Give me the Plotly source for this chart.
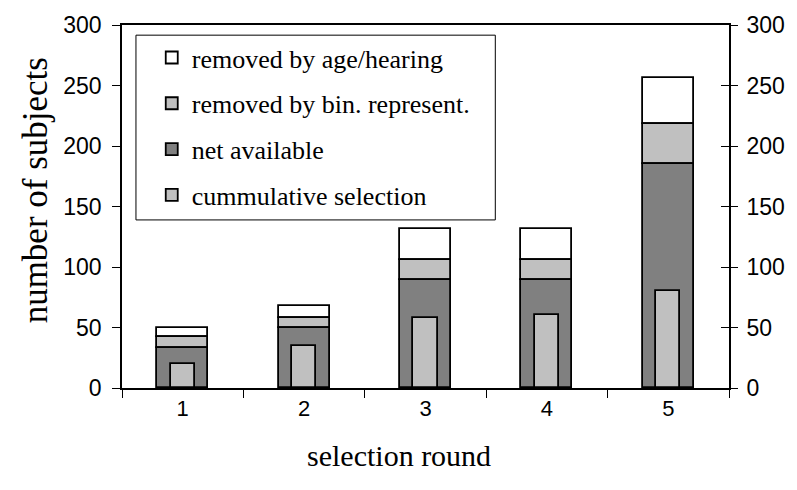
import plotly.graph_objects as go

# Selection rounds and subject counts per category
rounds = ["1", "2", "3", "4", "5"]
net_available = [33, 50, 89, 89, 185]
removed_bin = [9, 8, 17, 17, 33]
removed_age = [8, 10, 25, 25, 38]
cumulative_selection = [20, 35, 58, 60, 80]

y_ticks = [0, 50, 100, 150, 200, 250, 300]

# Stack bases for the outer column
base_bin = [n for n in net_available]
base_age = [n + b for n, b in zip(net_available, removed_bin)]

serif = "Liberation Serif, Times New Roman, serif"
sans = "Liberation Sans, Arial, sans-serif"
outline = dict(color="black", width=1.8)
outer_w = 0.42
inner_w = 0.2

fig = go.Figure()
fig.add_trace(go.Bar(
    x=rounds, y=removed_age, base=base_age, width=outer_w,
    name="removed by age/hearing", legendgroup="a", legendrank=1,
    marker=dict(color="#FFFFFF", line=outline),
))
fig.add_trace(go.Bar(
    x=rounds, y=removed_bin, base=base_bin, width=outer_w,
    name="removed by bin. represent.", legendgroup="b", legendrank=2,
    marker=dict(color="#C0C0C0", line=outline),
))
fig.add_trace(go.Bar(
    x=rounds, y=net_available, width=outer_w,
    name="net available", legendgroup="c", legendrank=3,
    marker=dict(color="#808080", line=outline),
))
fig.add_trace(go.Bar(
    x=rounds, y=cumulative_selection, width=inner_w,
    name="cummulative selection", legendgroup="d", legendrank=4,
    marker=dict(color="#C0C0C0", line=outline),
))

# Right-hand copy of the value axis with crossing ticks
fig.add_trace(go.Scatter(x=rounds, y=[None] * 5, yaxis="y2", showlegend=False, hoverinfo="skip"))
fig.add_trace(go.Scatter(x=rounds, y=[None] * 5, yaxis="y3", showlegend=False, hoverinfo="skip"))

fig.update_layout(
    width=797, height=490,
    margin=dict(l=122, r=65, t=25, b=102),
    paper_bgcolor="white", plot_bgcolor="white",
    barmode="overlay", bargap=0,
    showlegend=True,
    legend=dict(
        x=0.049, y=0.975, xanchor="left", yanchor="top",
        bgcolor="rgba(0,0,0,0)", borderwidth=0,
        font=dict(family=serif, size=26, color="black"),
        traceorder="grouped", tracegroupgap=9,
        itemclick=False,
    ),
    # Legend frame
    shapes=[dict(
        type="rect", xref="paper", yref="paper",
        x0=0.023, x1=0.615, y0=0.463, y1=0.972,
        line=dict(color="black", width=1), fillcolor="white", layer="above",
    )],
    xaxis=dict(
        type="category", tickson="boundaries",
        showline=True, linecolor="black", linewidth=1.6, mirror=True,
        ticks="outside", ticklen=8, tickcolor="black", tickwidth=1,
        tickfont=dict(family=sans, size=22, color="black"),
        showgrid=False, zeroline=False,
    ),
    yaxis=dict(
        range=[0, 300], tickvals=y_ticks,
        showline=True, linecolor="black", linewidth=1.6,
        ticks="outside", ticklen=8, tickcolor="black", tickwidth=1,
        ticklabelstandoff=6,
        tickfont=dict(family=sans, size=23, color="black"),
        showgrid=False, zeroline=False,
    ),
    yaxis2=dict(
        range=[0, 300], tickvals=y_ticks, overlaying="y", side="right",
        showline=True, linecolor="black", linewidth=1.6,
        ticks="outside", ticklen=7, tickcolor="black", tickwidth=1,
        ticklabelstandoff=4,
        tickfont=dict(family=sans, size=23, color="black"),
        showgrid=False, zeroline=False,
    ),
    yaxis3=dict(
        range=[0, 300], tickvals=y_ticks, overlaying="y", side="right",
        showline=False, ticks="inside", ticklen=8, tickcolor="black", tickwidth=1,
        showticklabels=False, showgrid=False, zeroline=False,
    ),
    annotations=[
        dict(
            text="selection round", xref="paper", yref="paper",
            x=0.456, y=-0.185, xanchor="center", yanchor="middle", showarrow=False,
            font=dict(family=serif, size=30, color="black"),
        ),
        dict(
            text="number of subjects", xref="paper", yref="paper",
            x=-0.143, y=0.545, xanchor="center", yanchor="middle", showarrow=False,
            textangle=-90, font=dict(family=serif, size=35, color="black"),
        ),
    ],
)

fig.write_html("out.html")
